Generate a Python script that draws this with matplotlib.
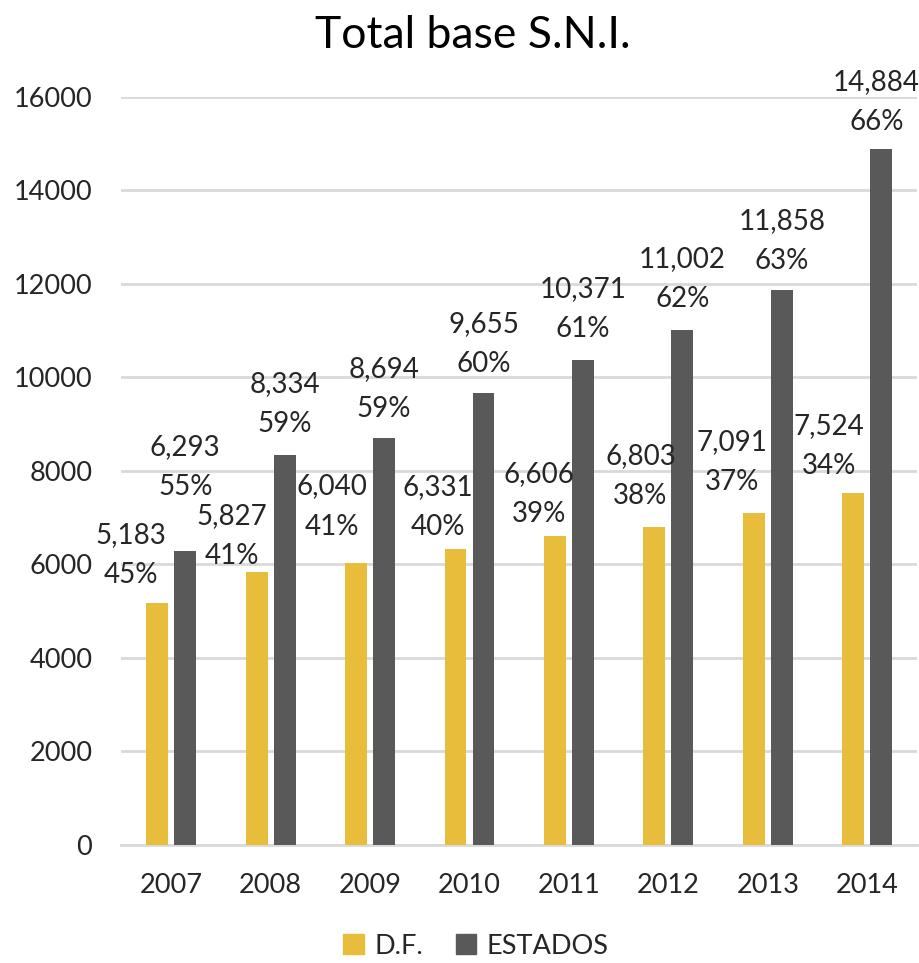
import matplotlib
matplotlib.use("Agg")
import matplotlib.pyplot as plt
import numpy as np
from matplotlib.patches import Patch

years = ["2007", "2008", "2009", "2010", "2011", "2012", "2013", "2014"]
df_values = [5183, 5827, 6040, 6331, 6606, 6803, 7091, 7524]
estados_values = [6293, 8334, 8694, 9655, 10371, 11002, 11858, 14884]
df_pct = ["45%", "41%", "41%", "40%", "39%", "38%", "37%", "34%"]
estados_pct = ["55%", "59%", "59%", "60%", "61%", "62%", "63%", "66%"]
yticks = [0, 2000, 4000, 6000, 8000, 10000, 12000, 14000, 16000]

# label placement offsets (pixels): horizontal shift, height of % line above bar top
df_dx = [-26, -25, -24, -18, -16, -14, -22, -24]
df_dy = [28, 16, 36, 22, 22, 31, 31, 27]
es_dx = [0, 0, 0, 0, 0, 0, 0, -5]
es_dy = [64, 31, 29, 29, 31, 31, 29, 27]

YELLOW = "#E8BD3C"
GRAY = "#595959"
TXT = "#262626"

plt.rcParams['font.family'] = ['Lato', 'DejaVu Sans']

fig = plt.figure(figsize=(9.2, 9.63), dpi=100)
ax = fig.add_axes([121.5/920, 1-845/963, (917-121.5)/920, (845-96.7)/963])

x = np.arange(len(years))
w = 0.22
off = 0.141
ax.bar(x - off, df_values, w, color=YELLOW, zorder=3)
ax.bar(x + off, estados_values, w, color=GRAY, zorder=3)

ax.set_xlim(-0.5, len(years) - 0.5)
ax.set_ylim(0, 16000)
ax.set_yticks(yticks)
ax.set_yticklabels([str(v) for v in yticks])
ax.set_xticks(x)
ax.set_xticklabels(years)
ax.tick_params(axis='both', length=0, labelsize=19.5, colors=TXT)
ax.tick_params(axis='y', pad=21)
ax.tick_params(axis='x', pad=20)
ax.grid(axis='y', color='#D9D9D9', linewidth=2, zorder=0)
for s in ['top', 'right', 'left']:
    ax.spines[s].set_visible(False)
ax.spines['bottom'].set_color('#D9D9D9')
ax.spines['bottom'].set_linewidth(2)

px = 72 / fig.dpi
for i in range(len(years)):
    for xv, val, pct, dx, dy in ((x[i] - off, df_values[i], df_pct[i], df_dx[i], df_dy[i]),
                                 (x[i] + off, estados_values[i], estados_pct[i], es_dx[i], es_dy[i])):
        ax.annotate(pct, (xv, val), xytext=(dx * px, dy * px), textcoords='offset points',
                    ha='center', va='center', fontsize=20, color=TXT, annotation_clip=False, zorder=5)
        ax.annotate(f"{val:,}", (xv, val), xytext=(dx * px, (dy + 40) * px), textcoords='offset points',
                    ha='center', va='center', fontsize=20, color=TXT, annotation_clip=False, zorder=5)

fig.text(473/920, 1-36/963, "Total base S.N.I.", ha='center', va='center', fontsize=32, color='black')

handles = [Patch(color=YELLOW, label='D.F.'), Patch(color=GRAY, label='ESTADOS')]
fig.legend(handles=handles, loc='center', bbox_to_anchor=(476/920, 1-946/963), ncol=2, frameon=False,
           fontsize=19.5, handlelength=0.75, handleheight=0.75, handletextpad=0.4, columnspacing=1.2,
           labelcolor=TXT)

fig.savefig("out.png", dpi=100)
